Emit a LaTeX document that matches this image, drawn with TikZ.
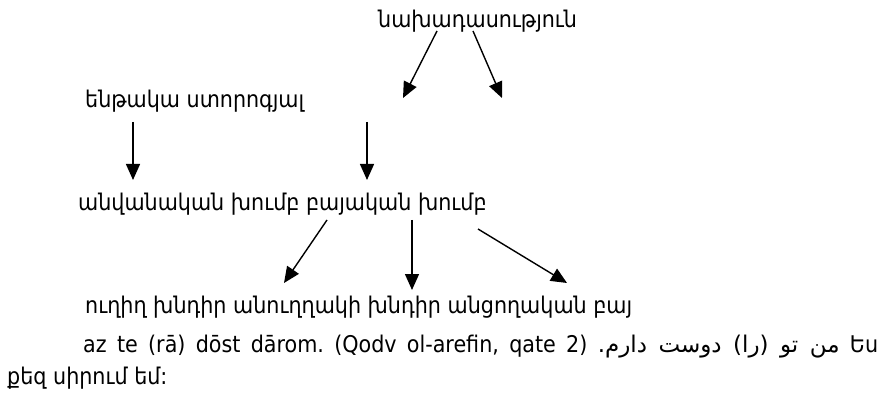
\documentclass[tikz,border=0pt]{standalone}
\usepackage{fontspec}
\setmainfont{DejaVu Sans Condensed}
\newfontfamily\arabicfont[Script=Arabic]{DejaVu Sans}
\TeXXeTstate=1
\frenchspacing
\usetikzlibrary{arrows.meta}

\begin{document}
\begin{tikzpicture}[x=1pt,y=-1pt,
  lbl/.style={inner sep=0pt, anchor=base west, font=\fontsize{23}{27}\selectfont},
  arr/.style={line width=1.4pt, -{Triangle[length=16pt,width=14pt]}}]
\useasboundingbox (0,0) rectangle (881,398);

% text rows
\node[lbl] (sent) at (378,28) {նախադասություն};
\node[lbl] (subj) at (85,108) {ենթակա ստորոգյալ};
\node[lbl] (grp)  at (78,211) {անվանական խումբ բայական խումբ};
\node[lbl] (obj)  at (85,313) {ուղիղ խնդիր անուղղակի խնդիր անցողական բայ};
\node[lbl] (ex1)  at (83,352) {\makebox[795pt][s]{az te (rā) dōst dārom. (Qodv ol-arefin, qate 2) {\arabicfont\beginR من تو (را) دوست دارم.\endR} Ես}};
\node[lbl] (ex2)  at (7,384) {քեզ սիրում եմ:};

% arrow end points
\coordinate (a1s) at (437,31);  \coordinate (a1e) at (403,98);
\coordinate (a2s) at (473,31);  \coordinate (a2e) at (502,98);
\coordinate (a3s) at (133,122); \coordinate (a3e) at (133,180);
\coordinate (a4s) at (367,122); \coordinate (a4e) at (367,180);
\coordinate (a5s) at (327,220); \coordinate (a5e) at (284,283);
\coordinate (a6s) at (412,220); \coordinate (a6e) at (412,290);
\coordinate (a7s) at (478,229); \coordinate (a7e) at (567,283);

\foreach \i in {1,...,7} \draw[arr] (a\i s) -- (a\i e);
\end{tikzpicture}
\end{document}
